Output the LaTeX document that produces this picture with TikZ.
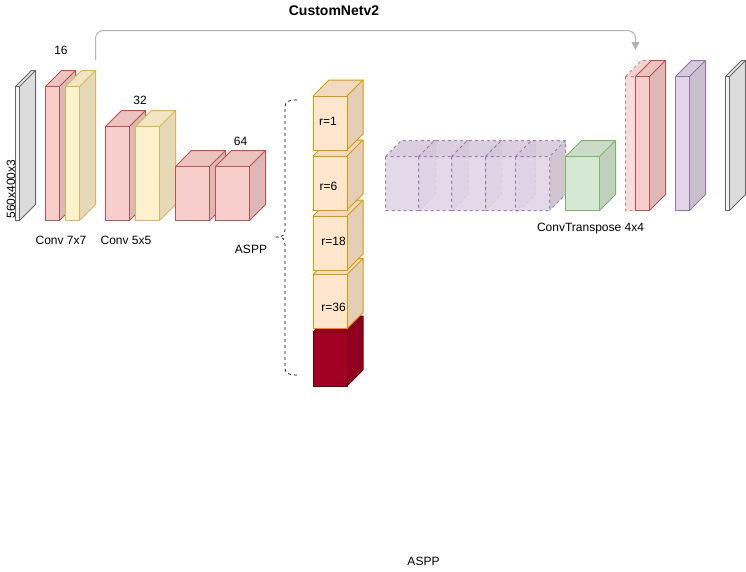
\documentclass[tikz,border=0pt]{standalone}
\usepackage{fontspec}
\setmainfont{Liberation Sans}
\usepackage{tikz}
\usetikzlibrary{arrows.meta}
\definecolor{redfill}{HTML}{F8CECC}
\definecolor{redline}{HTML}{B85450}
\definecolor{yellowfill}{HTML}{FFF2CC}
\definecolor{yellowline}{HTML}{D6B656}
\definecolor{orangefill}{HTML}{FFE6CC}
\definecolor{orangeline}{HTML}{D79B00}
\definecolor{purplefill}{HTML}{E1D5E7}
\definecolor{purpleline}{HTML}{9673A6}
\definecolor{greenfill}{HTML}{D5E8D4}
\definecolor{greenline}{HTML}{82B366}
\definecolor{greyfill}{HTML}{F5F5F5}
\definecolor{greyline}{HTML}{666666}
\definecolor{darkfill}{HTML}{A20025}
\definecolor{darkline}{HTML}{6F0000}
\definecolor{skipline}{HTML}{B3B3B3}
\tikzset{
  redcube/.style={fill=redfill,draw=redline},
  yellowcube/.style={fill=yellowfill,draw=yellowline},
  orangecube/.style={fill=orangefill,draw=orangeline},
  purplecube/.style={fill=purplefill,draw=purpleline},
  greencube/.style={fill=greenfill,draw=greenline},
  greycube/.style={fill=greyfill,draw=greyline},
  darkcube/.style={fill=darkfill,draw=darkline},
  textlabel/.style={font=\fontsize{12}{14}\selectfont,inner sep=0pt},
  fade/.style={transparency group,opacity=#1}
}
% x, y, width, height of the front face; depth is always 16
\newcommand{\cuboid}[6][]{%
  \begin{scope}[shift={(#2,#3)},#1]
    \path[#6,draw=none] (#4,0) -- (#4+16,-16) -- (#4+16,#5-16) -- (#4,#5) -- cycle;
    \fill[black,fill opacity=0.1]
      (#4,0) -- (#4+16,-16) -- (#4+16,#5-16) -- (#4,#5) -- cycle;
    \path[#6,draw=none] (0,0) -- (16,-16) -- (#4+16,-16) -- (#4,0) -- cycle;
    \fill[black,fill opacity=0.05]
      (0,0) -- (16,-16) -- (#4+16,-16) -- (#4,0) -- cycle;
    \path[#6,fill=none] (0,0) -- (16,-16) -- (#4+16,-16) -- (#4+16,#5-16) -- (#4,#5);
    \path[#6,fill=none] (#4+16,-16) -- (#4,0);
    \path[#6] (0,0) rectangle (#4,#5);
  \end{scope}
}
\begin{document}
\begin{tikzpicture}[
  x=1pt,y=-1pt,
  line width=1pt
]
\useasboundingbox (0,0) rectangle (746,571);
\fill[white] (0,0) rectangle (746,571);

% encoder
\cuboid{15.5}{86.5}{4}{134}{greycube}
\cuboid{45.5}{86.5}{14}{134}{redcube}
\cuboid{65.5}{86.5}{14}{134}{yellowcube}
\cuboid{105.5}{126.5}{24}{94}{redcube}
\cuboid{135.5}{126.5}{24}{94}{yellowcube}
\cuboid{175.5}{166.5}{34}{54}{redcube}
\cuboid{215.5}{166.5}{34}{54}{redcube}

% ASPP
\cuboid{313}{332}{34}{54}{darkcube}
\cuboid{313}{274.5}{34}{54}{orangecube}
\cuboid{313}{216}{34}{54}{orangecube}
\cuboid{313}{156}{34}{54}{orangecube}
\cuboid{313}{96}{34}{54}{orangecube}
\draw[dashed,line width=0.7pt]
  (297,100) .. controls (289,100) and (285,101) .. (285,108)
  -- (285,229) .. controls (285,235) and (283,237) .. (277,237)
  .. controls (283,237) and (285,239) .. (285,245)
  -- (285,367) .. controls (285,374) and (289,375) .. (297,375);

% decoder
\foreach \a in {385.5,418.5,451.5,485.5,515.5}{
  \cuboid[fade=0.9]{\a}{156.5}{34}{54}{purplecube,dashed}
}
\cuboid{565.5}{156.5}{34}{54}{greencube}
\cuboid[fade=0.7]{625.5}{76.5}{14}{134}{redcube,dashed}
\cuboid{635.5}{76.5}{14}{134}{redcube}
\cuboid{675.5}{76.5}{14}{134}{purplecube}
\cuboid{725.5}{76.5}{4}{134}{greycube}

% skip
\coordinate (skipstart) at (95.5,60);
\coordinate (skipend) at (635.5,50);
\draw[skipline,rounded corners=8pt,-{Triangle[length=8pt,width=8pt]}]
  (skipstart) -- (95.5,30.5) -- (635.5,30.5) -- (skipend);

\node[textlabel,font=\fontsize{14}{16}\selectfont\bfseries] (title) at (334,11) {CustomNetv2};
\node[textlabel] (size16) at (61,50.5) {16};
\node[textlabel] (size32) at (140,100.5) {32};
\node[textlabel] (size64) at (240.5,141) {64};
\node[textlabel,rotate=90] (input) at (11,189) {560x400x3};
\node[textlabel] (conv7) at (61,240.5) {Conv 7x7};
\node[textlabel] (conv5) at (126,240.5) {Conv 5x5};
\node[textlabel] (aspp) at (251,249.5) {ASPP};
\node[textlabel] (rate1) at (328,121) {r=1};
\node[textlabel] (rate6) at (328.5,186) {r=6};
\node[textlabel] (rate18) at (333.5,241) {r=18};
\node[textlabel] (rate36) at (333.5,307) {r=36};
\node[textlabel] (transpose) at (590.5,229) {ConvTranspose 4x4};
\node[textlabel] (caption) at (423.5,561) {ASPP};
\end{tikzpicture}
\end{document}
